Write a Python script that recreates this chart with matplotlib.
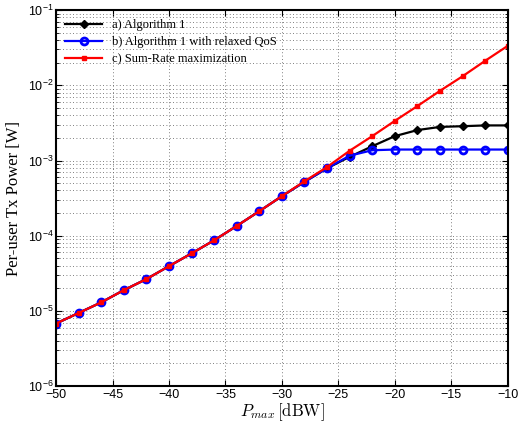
import matplotlib
matplotlib.use("Agg")
import matplotlib.pyplot as plt
from matplotlib.ticker import LogLocator, NullFormatter

# data
pmax_dbw = [-50, -48, -46, -44, -42, -40, -38, -36, -34, -32, -30,
            -28, -26, -24, -22, -20, -18, -16, -14, -12, -10]

alg1 = [6.8e-6, 9.4e-6, 1.30e-5, 1.89e-5, 2.65e-5, 3.94e-5, 5.82e-5, 8.7e-5,
        1.35e-4, 2.12e-4, 3.36e-4, 5.2e-4, 7.9e-4, 1.12e-3, 1.55e-3, 2.11e-3,
        2.54e-3, 2.80e-3, 2.86e-3, 2.93e-3, 2.93e-3]
alg1_relaxed = [6.8e-6, 9.4e-6, 1.30e-5, 1.89e-5, 2.65e-5, 3.94e-5, 5.82e-5, 8.7e-5,
                1.35e-4, 2.12e-4, 3.36e-4, 5.2e-4, 7.9e-4, 1.16e-3, 1.37e-3, 1.40e-3,
                1.40e-3, 1.40e-3, 1.40e-3, 1.40e-3, 1.40e-3]
sum_rate = [6.8e-6, 9.4e-6, 1.30e-5, 1.89e-5, 2.65e-5, 3.94e-5, 5.82e-5, 8.7e-5,
            1.35e-4, 2.12e-4, 3.36e-4, 5.3e-4, 8.2e-4, 1.35e-3, 2.11e-3, 3.37e-3,
            5.3e-3, 8.45e-3, 1.32e-2, 2.12e-2, 3.35e-2]

labels = ["a) Algorithm 1", "b) Algorithm 1 with relaxed QoS",
          "c) Sum-Rate maximization"]

plt.rcParams['mathtext.fontset'] = 'cm'
plt.rcParams['font.family'] = 'Liberation Sans'

fig = plt.figure(figsize=(5.24, 4.22), dpi=100)
ax = fig.add_axes([0.107, 0.085, 0.862, 0.891])

ax.semilogy(pmax_dbw, alg1, '-', color='black', marker='D', markersize=4.5,
            linewidth=1.6, label=labels[0])
ax.semilogy(pmax_dbw, alg1_relaxed, '-', color='blue', marker='o', markersize=5,
            markerfacecolor='none', markeredgewidth=2, linewidth=1.6, label=labels[1])
ax.semilogy(pmax_dbw, sum_rate, '-', color='red', marker='s', markersize=2.5,
            linewidth=1.6, label=labels[2])

ax.set_xlim(-50, -10)
ax.set_ylim(1e-6, 1e-1)
ax.set_xticks(range(-50, -9, 5))
ax.set_xticklabels([f"\u2212{abs(v)}" for v in range(-50, -9, 5)])
ax.yaxis.set_major_locator(LogLocator(base=10, numticks=10))
ax.yaxis.set_minor_locator(LogLocator(base=10, subs=range(2, 10), numticks=20))
ax.yaxis.set_minor_formatter(NullFormatter())

ax.grid(True, which='major', linestyle=(0, (1, 3)), color='#555555', linewidth=0.6)
ax.grid(True, which='minor', axis='y', linestyle=(0, (1, 3)), color='#555555', linewidth=0.6)

ax.tick_params(which='both', direction='in', top=True, right=True, labelsize=9, pad=2)
ax.tick_params(which='major', length=4)
ax.tick_params(which='minor', length=2)
for s in ax.spines.values():
    s.set_linewidth(1.5)

ax.set_xlabel(r'$P_{max}\,[\mathrm{dBW}]$', fontsize=12, labelpad=0)
ax.set_ylabel('Per-user Tx Power [W]', fontsize=12, family='Liberation Serif', labelpad=4)

ax.legend(loc='upper left', frameon=False, prop={'family': 'Liberation Serif', 'size': 9},
          handlelength=3, borderaxespad=0.3, labelspacing=0.4)

fig.savefig('out.png', dpi=100)
